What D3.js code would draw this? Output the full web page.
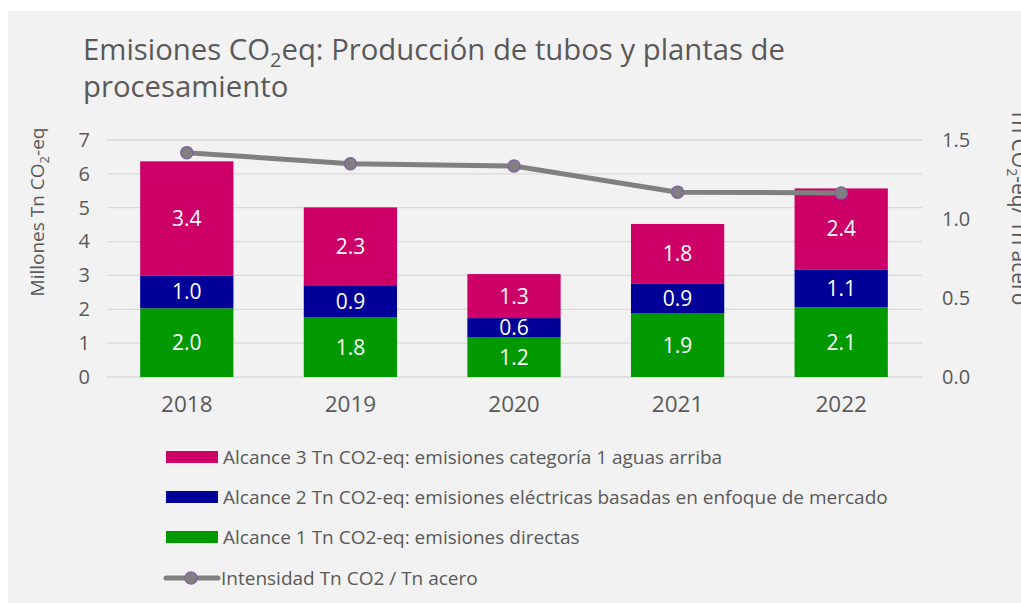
<html>
<head>
    <meta charSet="utf-8">
    <title>Emisiones CO2eq</title>
    <script src="https://d3js.org/d3.v7.min.js"></script>
    <style>
        body { margin: 0; background: #fff; }
        text { font-family: "Open Sans", "Noto Sans", sans-serif; }
    </style>
</head>
<body>
<svg id="chart"></svg>
<script>
    const years = ["2018", "2019", "2020", "2021", "2022"];
    const alcance1 = [2.03, 1.77, 1.18, 1.89, 2.06];
    const alcance2 = [0.97, 0.94, 0.56, 0.86, 1.12];
    const alcance3 = [3.37, 2.30, 1.30, 1.77, 2.39];
    const intensidad = [1.42, 1.35, 1.335, 1.17, 1.165];
    const leftTicks = [0, 1, 2, 3, 4, 5, 6, 7];
    const rightTicks = [0, 0.5, 1.0, 1.5];

    const seriesNames = [
        "Alcance 1 Tn CO2-eq: emisiones directas",
        "Alcance 2 Tn CO2-eq: emisiones eléctricas basadas en enfoque de mercado",
        "Alcance 3 Tn CO2-eq: emisiones categoría 1 aguas arriba"
    ];
    const lineName = "Intensidad Tn CO2 / Tn acero";
    const colors = ["#009900", "#000099", "#cc0066"];
    const textColor = "#595959";

    const width = 1021;
    const height = 603;

    const svg = d3.select("#chart")
        .attr("width", width)
        .attr("height", height);

    svg.append("rect")
        .attr("x", 8).attr("y", 11)
        .attr("width", width - 8).attr("height", height - 11)
        .attr("fill", "#f2f2f2");

    // title
    const title = svg.append("text")
        .attr("x", 83).attr("y", 60)
        .attr("fill", textColor)
        .attr("font-size", 29.3);
    title.append("tspan").text("Emisiones CO");
    title.append("tspan").attr("font-size", 20).attr("dy", 7).text("2");
    title.append("tspan").attr("dy", -7).text("eq: Producción de tubos y plantas de");
    svg.append("text")
        .attr("x", 83).attr("y", 97)
        .attr("fill", textColor)
        .attr("font-size", 29.3)
        .text("procesamiento");

    const x = d3.scaleBand()
        .domain(years)
        .range([105, 923])
        .paddingInner(0.43)
        .paddingOuter(0.215);

    const y = d3.scaleLinear().domain([0, 7]).range([377, 140]);
    const y2 = d3.scaleLinear().domain([0, 1.5]).range([377, 140]);

    // gridlines
    svg.append("g")
        .selectAll("line")
        .data(leftTicks)
        .join("line")
        .attr("x1", 107).attr("x2", 922)
        .attr("y1", d => y(d)).attr("y2", d => y(d))
        .attr("stroke", "#d9d9d9")
        .attr("stroke-width", 1.3);

    // left axis
    const yAxis = svg.append("g")
        .attr("transform", "translate(90,0)")
        .call(d3.axisLeft(y).tickValues(leftTicks).tickSize(0).tickPadding(0).tickFormat(d3.format("d")));
    yAxis.select(".domain").remove();
    yAxis.selectAll("text")
        .attr("fill", textColor)
        .attr("font-size", 20)
        .attr("font-family", "Open Sans, Noto Sans, sans-serif");

    // right axis
    const y2Axis = svg.append("g")
        .attr("transform", "translate(942,0)")
        .call(d3.axisRight(y2).tickValues(rightTicks).tickSize(0).tickPadding(0).tickFormat(d3.format(".1f")));
    y2Axis.select(".domain").remove();
    y2Axis.selectAll("text")
        .attr("fill", textColor)
        .attr("font-size", 20)
        .attr("font-family", "Open Sans, Noto Sans, sans-serif");

    // x axis
    const xAxis = svg.append("g")
        .attr("transform", "translate(0,392)")
        .call(d3.axisBottom(x).tickSize(0).tickPadding(4));
    xAxis.select(".domain").remove();
    xAxis.selectAll("text")
        .attr("fill", textColor)
        .attr("font-size", 22.5)
        .attr("font-family", "Open Sans, Noto Sans, sans-serif");

    // axis titles
    const lt = svg.append("text")
        .attr("transform", "translate(44,212) rotate(-90)")
        .attr("text-anchor", "middle")
        .attr("fill", textColor)
        .attr("font-size", 19);
    lt.append("tspan").text("Millones Tn CO");
    lt.append("tspan").attr("font-size", 13).attr("dy", 5).text("2");
    lt.append("tspan").attr("dy", -5).text("-eq");

    const rt = svg.append("text")
        .attr("transform", "translate(1012,207) rotate(90)")
        .attr("text-anchor", "middle")
        .attr("fill", textColor)
        .attr("font-size", 21);
    rt.append("tspan").text("Tn CO");
    rt.append("tspan").attr("font-size", 14).attr("dy", 5).text("2");
    rt.append("tspan").attr("dy", -5).text("-eq/ Tn acero");

    // stacked bars
    const table = years.map((yr, i) => ({year: yr, a1: alcance1[i], a2: alcance2[i], a3: alcance3[i]}));
    const stack = d3.stack().keys(["a1", "a2", "a3"])(table);

    const layers = svg.append("g")
        .selectAll("g")
        .data(stack)
        .join("g")
        .attr("fill", (d, i) => colors[i]);

    layers.selectAll("rect")
        .data(d => d)
        .join("rect")
        .attr("x", d => x(d.data.year))
        .attr("width", x.bandwidth())
        .attr("y", d => y(d[1]))
        .attr("height", d => y(d[0]) - y(d[1]));

    layers.selectAll("text")
        .data(d => d)
        .join("text")
        .attr("x", d => x(d.data.year) + x.bandwidth() / 2)
        .attr("y", d => (y(d[0]) + y(d[1])) / 2)
        .attr("dy", "0.36em")
        .attr("text-anchor", "middle")
        .attr("fill", "#fff")
        .attr("font-size", 21)
        .text(d => d3.format(".1f")(d[1] - d[0]));

    // intensity line
    const line = d3.line()
        .x((d, i) => x(years[i]) + x.bandwidth() / 2)
        .y(d => y2(d));

    svg.append("path")
        .datum(intensidad)
        .attr("d", line)
        .attr("fill", "none")
        .attr("stroke", "#808080")
        .attr("stroke-width", 5);

    svg.append("g")
        .selectAll("circle")
        .data(intensidad)
        .join("circle")
        .attr("cx", (d, i) => x(years[i]) + x.bandwidth() / 2)
        .attr("cy", d => y2(d))
        .attr("r", 6)
        .attr("fill", "#808080")
        .attr("stroke", "#8064a2")
        .attr("stroke-width", 1.5);

    // legend
    const legendItems = [
        {name: seriesNames[2], color: colors[2]},
        {name: seriesNames[1], color: colors[1]},
        {name: seriesNames[0], color: colors[0]}
    ];
    const legend = svg.append("g");
    legendItems.forEach((item, i) => {
        const ly = 457 + i * 40;
        legend.append("rect")
            .attr("x", 166).attr("y", ly - 6)
            .attr("width", 52).attr("height", 12)
            .attr("fill", item.color);
        legend.append("text")
            .attr("x", 223).attr("y", ly)
            .attr("dy", "0.35em")
            .attr("fill", textColor)
            .attr("font-size", 19)
            .text(item.name);
    });
    const lly = 578;
    legend.append("line")
        .attr("x1", 166).attr("x2", 218)
        .attr("y1", lly).attr("y2", lly)
        .attr("stroke", "#808080")
        .attr("stroke-width", 5)
        .attr("stroke-linecap", "round");
    legend.append("circle")
        .attr("cx", 191).attr("cy", lly).attr("r", 6)
        .attr("fill", "#808080")
        .attr("stroke", "#8064a2")
        .attr("stroke-width", 1.5);
    legend.append("text")
        .attr("x", 221).attr("y", lly)
        .attr("dy", "0.35em")
        .attr("fill", textColor)
        .attr("font-size", 19)
        .text(lineName);
</script>
</body>
</html>
